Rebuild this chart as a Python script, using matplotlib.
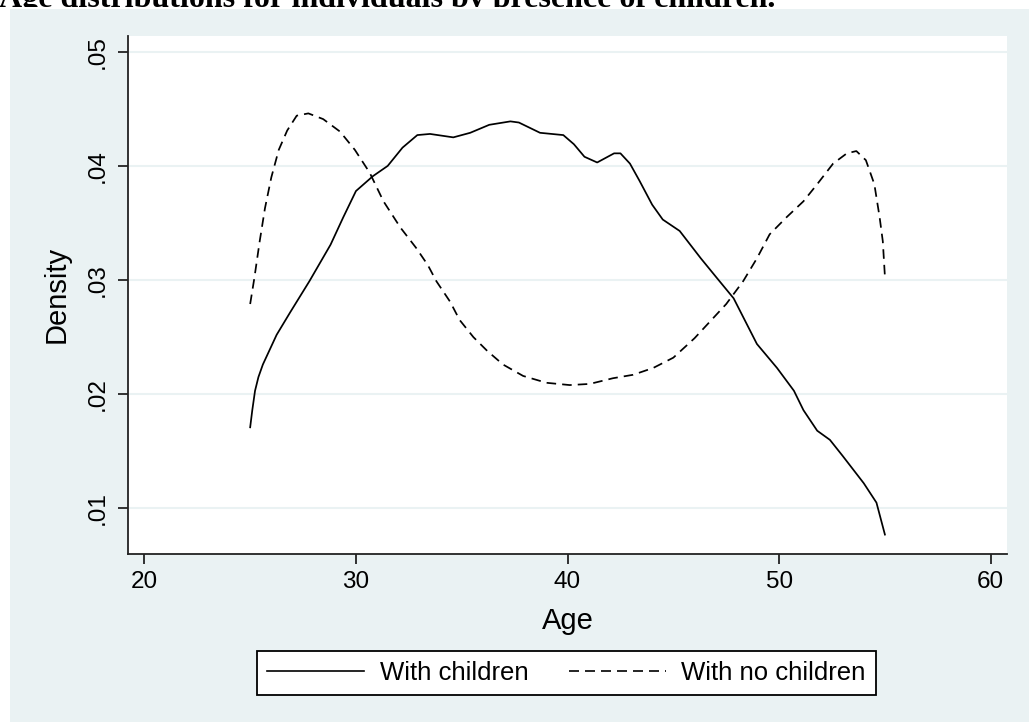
import matplotlib.pyplot as plt
from matplotlib.patches import Rectangle
from matplotlib.lines import Line2D

plt.rcParams['font.family'] = ['Liberation Sans', 'DejaVu Sans']

# kernel density curves
age_kids = [25.0, 25.1, 25.23, 25.39, 25.6, 26.25, 26.9, 27.8, 28.8, 29.4, 30.0,
            30.8, 31.5, 32.2, 32.9, 33.5, 34.6, 35.4, 36.3, 37.3, 37.7,
            38.7, 39.8, 40.3, 40.8, 41.4, 42.2, 42.5, 42.95, 43.4, 44.0,
            44.5, 45.3, 46.3, 47.05, 47.85, 48.4, 48.95, 49.9, 50.7, 51.15,
            51.8, 52.4, 53.0, 54.0, 54.6, 55.0]
dens_kids = [0.0171, 0.0186, 0.0203, 0.0215, 0.0226, 0.0252, 0.0272, 0.0299, 0.0331, 0.0355, 0.0378,
             0.0391, 0.0400, 0.0416, 0.0427, 0.0428, 0.0425, 0.0429, 0.0436, 0.0439, 0.0438,
             0.0429, 0.0427, 0.0419, 0.0408, 0.0403, 0.0411, 0.0411, 0.0402, 0.0387, 0.0366,
             0.0353, 0.0343, 0.0319, 0.0302, 0.0284, 0.0264, 0.0244, 0.0223, 0.0203, 0.0186,
             0.0168, 0.0160, 0.0146, 0.0122, 0.0105, 0.0077]

age_nokids = [25.0, 25.2, 25.45, 25.7, 26.0, 26.35, 26.75, 27.2, 27.75, 28.45,
              29.25, 29.95, 30.65, 31.3, 32.1, 32.85, 33.4, 33.8, 34.45, 34.9,
              35.55, 36.2, 36.95, 37.9, 39.0, 40.1, 41.05, 42.15, 43.1, 44.05,
              45.0, 46.0, 46.75, 47.5, 48.3, 48.95, 49.55, 50.35, 51.15, 51.8,
              52.55, 53.2, 53.65, 54.1, 54.5, 54.75, 54.9, 55.0]
dens_nokids = [0.0279, 0.0302, 0.0334, 0.0363, 0.0390, 0.0414, 0.0431, 0.0444, 0.0446, 0.0441,
               0.0430, 0.0414, 0.0394, 0.0369, 0.0346, 0.0328, 0.0313, 0.0299, 0.0281, 0.0265,
               0.0250, 0.0238, 0.0226, 0.0216, 0.0210, 0.0208, 0.0209, 0.0214, 0.0217, 0.0223,
               0.0232, 0.0249, 0.0264, 0.0279, 0.0299, 0.0319, 0.0340, 0.0355, 0.0369, 0.0384,
               0.0402, 0.0411, 0.0413, 0.0405, 0.0384, 0.0355, 0.0334, 0.0303]

xticks = [20, 30, 40, 50, 60]
yticks = [0.01, 0.02, 0.03, 0.04, 0.05]
ytick_labels = ['.01', '.02', '.03', '.04', '.05']

W, H = 1029, 722
bg = '#EAF2F3'
fig = plt.figure(figsize=(W / 100, H / 100), dpi=100)
fig.patch.set_facecolor('white')

# title sits above the graph and is partly hidden by it
fig.text(-1 / W, 1 - 7.5 / H, 'Age distributions for individuals by presence of children.',
         family='Liberation Serif', weight='bold', fontsize=23, va='baseline', ha='left',
         zorder=0.1)
fig.patches.append(Rectangle((0, 1 - 9 / H), 1, 1.6 / H, transform=fig.transFigure,
                             facecolor='white', edgecolor='none', zorder=0.5))
fig.patches.append(Rectangle((10 / W, 0), 1, 1 - 9 / H, transform=fig.transFigure,
                             facecolor=bg, edgecolor='none', zorder=0.5))

ax = fig.add_axes([128.3 / W, (H - 554) / H, (1007 - 128.3) / W, (554 - 36) / H])
ax.set_zorder(2)
ax.set_facecolor('white')

ax.plot(age_kids, dens_kids, color='black', lw=1.25)
ax.plot(age_nokids, dens_nokids, color='black', lw=1.25, dashes=(5.5, 3.5))

ax.set_xlim(19.24, 60.77)
ax.set_ylim(0.0060, 0.05138)
ax.set_xticks(xticks)
ax.set_yticks(yticks)
ax.set_yticklabels(ytick_labels, rotation=90, va='center')

ax.yaxis.grid(True, color=bg, lw=1.5)
ax.set_axisbelow(True)
for s in ['top', 'right']:
    ax.spines[s].set_visible(False)
for s in ['left', 'bottom']:
    ax.spines[s].set_linewidth(1.3)
    ax.spines[s].set_color('#222222')

ax.tick_params(length=7.2, width=1.3, labelsize=17.5, color='#222222', direction='out')
ax.tick_params(axis='x', pad=5)
ax.tick_params(axis='y', pad=7)

fig.text(568 / W, 1 - 629 / H, 'Age', fontsize=21, ha='center', va='baseline')
fig.text(56.5 / W, 1 - 294 / H, 'Density', fontsize=21, ha='center', va='center', rotation=90)

handles = [Line2D([], [], color='black', lw=1.2),
           Line2D([], [], color='black', lw=1.2, dashes=(6, 3.6))]
leg = fig.legend(handles, ['With children', 'With no children'], loc='center',
                 bbox_to_anchor=(566.5 / W, 1 - 673 / H), ncol=2, fontsize=18.5,
                 handlelength=3.77, handletextpad=0.62, columnspacing=1.56,
                 borderpad=0.38, fancybox=False, framealpha=1, edgecolor='black')
leg.get_frame().set_linewidth(1.3)

fig.savefig('out.png', dpi=100, facecolor='white')
